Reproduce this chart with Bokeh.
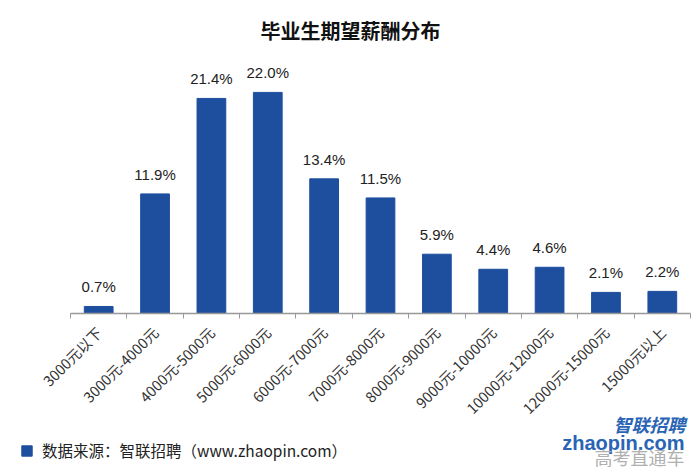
from bokeh.plotting import figure
from bokeh.models import (ColumnDataSource, Range1d, FixedTicker, LabelSet, Label,
                          Legend, LegendItem)
from bokeh.core.properties import value
from bokeh.embed import file_html
from bokeh.resources import INLINE
import math

categories = ["3000元以下", "3000元-4000元", "4000元-5000元", "5000元-6000元",
              "6000元-7000元", "7000元-8000元", "8000元-9000元", "9000元-10000元",
              "10000元-12000元", "12000元-15000元", "15000元以上"]
values = [0.7, 11.9, 21.4, 22.0, 13.4, 11.5, 5.9, 4.4, 4.6, 2.1, 2.2]
value_labels = [f"{v:.1f}%" for v in values]
title_text = "毕业生期望薪酬分布"
legend_text = "数据来源：智联招聘（www.zhaopin.com）"

xs = list(range(len(categories)))
src = ColumnDataSource(dict(x=xs, top=values, lab=value_labels))

CJK = "Noto Sans CJK SC"
BLUE = "#1d4f9e"

W, H = 700, 469
TOP = 50            # frame top (below title)
BASE = 313          # pixel row of the category axis
PX_PER_PCT = 10.05
CAT_W = 620 / 11
LEFT = 70

y0 = -(H - BASE) / PX_PER_PCT
y1 = (BASE - TOP) / PX_PER_PCT
x0 = -0.5 - LEFT / CAT_W
x1 = x0 + W / CAT_W

p = figure(width=W, height=H, output_backend="svg", toolbar_location=None,
           x_range=Range1d(x0, x1), y_range=Range1d(y0, y1),
           min_border_left=0, min_border_right=0, min_border_top=TOP,
           min_border_bottom=0)
p.title.text = title_text
p.title.align = "center"
p.title.standoff = 12
p.title.text_font = CJK
p.title.text_font_size = "20px"
p.title.text_font_style = "bold"
p.title.text_color = "#111111"
p.outline_line_color = None
p.background_fill_color = "white"
p.border_fill_color = "white"
p.grid.visible = False
p.yaxis.visible = False

r = p.vbar(x="x", top="top", width=0.51, source=src, color=BLUE)

ax = p.xaxis[0]
ax.fixed_location = 0
ax.bounds = (-0.5, len(categories) - 0.5)
ax.ticker = FixedTicker(ticks=xs, minor_ticks=[i - 0.5 for i in range(len(categories) + 1)])
ax.major_label_overrides = {i: c for i, c in enumerate(categories)}
ax.major_label_orientation = math.pi / 4
ax.major_label_text_font = CJK
ax.major_label_text_font_size = "14.5px"
ax.major_label_text_color = "#333333"
ax.major_tick_line_color = None
ax.minor_tick_line_color = "#999999"
ax.minor_tick_out = 5
ax.minor_tick_in = 0
ax.axis_line_color = "#999999"
ax.axis_line_width = 1.5
ax.major_label_standoff = 10

labels = LabelSet(x="x", y="top", text="lab", source=src, text_align="center",
                  text_baseline="bottom", y_offset=11, text_font=value("Liberation Sans"),
                  text_font_size=value("15px"), text_color=value("#222222"))
p.add_layout(labels)

legend = Legend(items=[LegendItem(label=legend_text, renderers=[r])],
                location=(20, 8), orientation="horizontal",
                label_text_font=CJK, label_text_font_size="15.5px",
                label_text_color="#222222", glyph_width=13, glyph_height=13,
                label_height=13, padding=0, margin=0, spacing=0, label_standoff=9,
                border_line_color=None, background_fill_alpha=0)
p.add_layout(legend, "center")

# watermark (screen units relative to the frame's bottom-left corner)
p.add_layout(Label(x=685, y=33, x_units="screen", y_units="screen", text="智联招聘",
                   text_align="right", text_baseline="bottom", text_font=CJK,
                   text_font_size="18px", text_font_style="bold italic", text_color="#2a64b4"))
p.add_layout(Label(x=684, y=16, x_units="screen", y_units="screen", text="zhaopin.com",
                   text_align="right", text_baseline="bottom", text_font="Liberation Sans",
                   text_font_size="20px", text_font_style="bold", text_color="#2a64b4"))
p.add_layout(Label(x=684, y=0, x_units="screen", y_units="screen", text="高考直通车",
                   text_align="right", text_baseline="bottom", text_font=CJK,
                   text_font_size="18px", text_color="#b0b0b0"))

open("out.html", "w").write(file_html(p, INLINE))
